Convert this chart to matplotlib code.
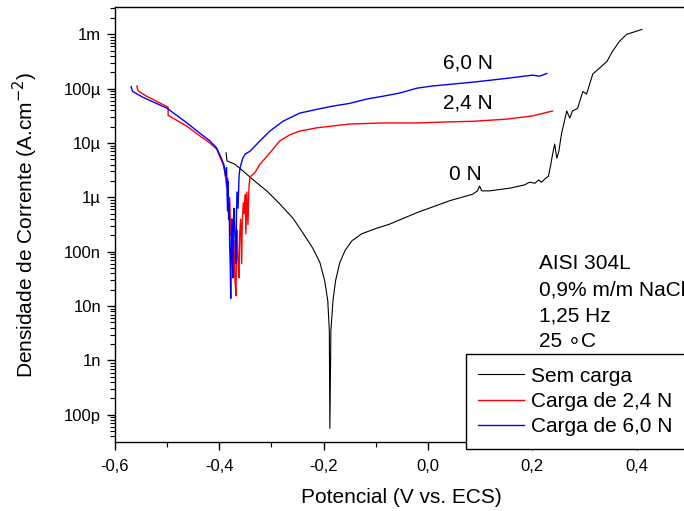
import numpy as np
import matplotlib.pyplot as plt
from matplotlib.ticker import FixedLocator, FixedFormatter, LogLocator, NullFormatter, MultipleLocator

plt.rcParams['font.family'] = ['Liberation Sans', 'DejaVu Sans']
plt.rcParams['axes.unicode_minus'] = False

# curvas de polarização: potencial (V vs. ECS) e log10 da densidade de corrente (A/cm2)
pot_sem_carga = [-0.387, -0.385, -0.370, -0.355, -0.332, -0.309, -0.284, -0.259, -0.240,
                 -0.221, -0.207, -0.198, -0.192, -0.189, -0.188, -0.186, -0.182, -0.177,
                 -0.169, -0.159, -0.146, -0.127, -0.102, -0.073, -0.021, 0.042, 0.086,
                 0.095, 0.099, 0.103, 0.118, 0.157, 0.185, 0.195, 0.205, 0.212, 0.218,
                 0.224, 0.231, 0.235, 0.239, 0.243, 0.247, 0.251, 0.256, 0.266, 0.272,
                 0.277, 0.287, 0.297, 0.304, 0.316, 0.329, 0.343, 0.354, 0.367, 0.381,
                 0.410]
logi_sem_carga = [-5.18, -5.33, -5.39, -5.51, -5.70, -5.88, -6.12, -6.38, -6.65,
                  -6.93, -7.20, -7.53, -7.90, -8.45, -10.25, -8.45, -7.90, -7.53,
                  -7.20, -6.98, -6.80, -6.67, -6.58, -6.49, -6.28, -6.06, -5.94,
                  -5.88, -5.79, -5.88, -5.88, -5.83, -5.77, -5.72, -5.74, -5.68, -5.72,
                  -5.66, -5.61, -5.42, -5.20, -5.02, -5.28, -5.15, -4.83, -4.41, -4.54,
                  -4.41, -4.36, -4.05, -4.10, -3.73, -3.62, -3.50, -3.31, -3.13, -3.00,
                  -2.91]

pot_24N = [-0.558, -0.556, -0.554, -0.539, -0.498, -0.498, -0.462, -0.437, -0.418,
           -0.405, -0.399, -0.393, -0.389, -0.386, -0.384, -0.382, -0.380, -0.378,
           -0.376, -0.374, -0.372, -0.370, -0.368, -0.367, -0.366, -0.364, -0.362,
           -0.361, -0.359, -0.357, -0.356, -0.354, -0.352, -0.350, -0.349, -0.347,
           -0.345, -0.343, -0.341, -0.332, -0.322, -0.303, -0.284, -0.265, -0.246,
           -0.213, -0.150, -0.087, -0.021, 0.042, 0.086, 0.151, 0.201, 0.239]
logi_24N = [-3.95, -4.03, -4.05, -4.14, -4.34, -4.49, -4.69, -4.87, -5.00,
            -5.11, -5.25, -5.38, -5.55, -5.80, -5.65, -6.30, -6.00, -6.70,
            -6.40, -7.10, -6.80, -7.50, -7.81, -7.00, -6.60, -7.20, -7.48,
            -6.70, -6.40, -7.22, -6.50, -6.10, -6.30, -5.95, -6.67, -5.90,
            -6.50, -5.80, -5.62, -5.55, -5.39, -5.18, -4.96, -4.85, -4.78,
            -4.72, -4.65, -4.63, -4.63, -4.61, -4.60, -4.56, -4.50, -4.41]

pot_60N = [-0.569, -0.567, -0.566, -0.546, -0.500, -0.462, -0.437, -0.418, -0.405,
           -0.396, -0.391, -0.388, -0.386, -0.385, -0.384, -0.383, -0.382, -0.381,
           -0.380, -0.379, -0.378, -0.377, -0.376, -0.375, -0.374, -0.373, -0.372,
           -0.370, -0.368, -0.367, -0.366, -0.364, -0.362, -0.360, -0.357, -0.355,
           -0.350, -0.341, -0.322, -0.303, -0.278, -0.246, -0.213, -0.182, -0.150,
           -0.117, -0.087, -0.054, -0.021, 0.009, 0.042, 0.086, 0.151, 0.201,
           0.214, 0.228]
logi_60N = [-3.96, -4.03, -4.05, -4.16, -4.36, -4.63, -4.82, -4.96, -5.09,
            -5.28, -5.40, -5.60, -5.45, -5.95, -6.25, -5.70, -6.40, -6.10,
            -6.90, -7.20, -7.86, -6.80, -6.40, -7.00, -7.48, -6.50, -6.20,
            -6.70, -7.22, -6.30, -5.90, -6.20, -5.60, -5.45, -5.35, -5.28,
            -5.20, -5.15, -4.96, -4.78, -4.60, -4.45, -4.38, -4.32, -4.27,
            -4.19, -4.14, -4.08, -3.99, -3.95, -3.92, -3.88, -3.81, -3.75,
            -3.77, -3.72]

xticks = [-0.6, -0.4, -0.2, 0.0, 0.2, 0.4]
xtick_labels = ['-0,6', '-0,4', '-0,2', '0,0', '0,2', '0,4']
yticks = [1e-10, 1e-9, 1e-8, 1e-7, 1e-6, 1e-5, 1e-4, 1e-3]
ytick_labels = ['100p', '1n', '10n', '100n', '1µ', '10µ', '100µ', '1m']

fig = plt.figure(figsize=(6.84, 5.11), dpi=100)
ax = fig.add_axes([0.168, 0.135, 0.839, 0.851])

ax.plot(pot_sem_carga, 10 ** np.array(logi_sem_carga), color='k', lw=0.8, label='Sem carga')
ax.plot(pot_24N, 10 ** np.array(logi_24N), color='red', lw=1.0, label='Carga de 2,4 N')
ax.plot(pot_60N, 10 ** np.array(logi_60N), color='blue', lw=1.0, label='Carga de 6,0 N')

ax.set_yscale('log')
ax.set_xlim(-0.6, 0.5)
ax.set_ylim(10 ** -10.5, 10 ** -2.5)

ax.xaxis.set_major_locator(FixedLocator(xticks))
ax.xaxis.set_major_formatter(FixedFormatter(xtick_labels))
ax.xaxis.set_minor_locator(MultipleLocator(0.1))
ax.yaxis.set_major_locator(FixedLocator(yticks))
ax.yaxis.set_major_formatter(FixedFormatter(ytick_labels))
ax.yaxis.set_minor_locator(LogLocator(base=10, subs=np.arange(2, 10), numticks=20))
ax.yaxis.set_minor_formatter(NullFormatter())

ax.tick_params(which='major', direction='out', length=6, width=1, labelsize=12)
ax.tick_params(which='minor', direction='out', length=3.5, width=0.8)
ax.tick_params(axis='x', which='major', pad=6)
ax.tick_params(axis='y', which='major', pad=4)
for s in ax.spines.values():
    s.set_linewidth(1)

ax.set_xlabel('Potencial (V vs. ECS)', fontsize=15, labelpad=10)
ax.set_ylabel('Densidade de Corrente (A.cm$^{-2}$)', fontsize=15, labelpad=17)

ax.text(0.076, 10 ** -3.53, '6,0 N', fontsize=15, ha='center', va='center')
ax.text(0.076, 10 ** -4.27, '2,4 N', fontsize=15, ha='center', va='center')
ax.text(0.072, 10 ** -5.57, '0 N', fontsize=15, ha='center', va='center')

info = ['AISI 304L', '0,9% m/m NaCl', '1,25 Hz', '25 \u2218C']
for k, linha in enumerate(info):
    ax.text(0.739, 0.41 - k * 0.06, linha, fontsize=15, ha='left', va='center',
            transform=ax.transAxes)

leg = ax.legend(loc='upper left', bbox_to_anchor=(0.611, 0.202), fontsize=15,
                frameon=True, fancybox=False, edgecolor='k', framealpha=1,
                handlelength=2.2, handletextpad=0.35, borderpad=0.6,
                labelspacing=0.3, borderaxespad=0)
leg.get_frame().set_linewidth(1)

fig.savefig('out.png', dpi=100)
